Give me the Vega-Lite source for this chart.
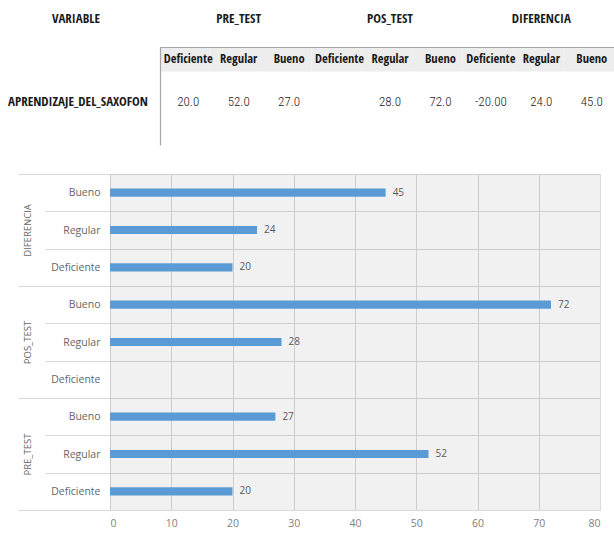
{
  "$schema": "https://vega.github.io/schema/vega-lite/v6.json",
  "padding": 0,
  "background": "white",
  "config": {"view": {"stroke": null}},
  "datasets": {
    "tbl": [
      {"row": "h1", "col": "c2", "text": "PRE_TEST"},
      {"row": "h1", "col": "c5", "text": "POS_TEST"},
      {"row": "h1", "col": "c8", "text": "DIFERENCIA"}
    ],
    "sub": [
      {"row": "h", "col": "c1", "text": "Deficiente"},
      {"row": "h", "col": "c2", "text": "Regular"},
      {"row": "h", "col": "c3", "text": "Bueno"},
      {"row": "h", "col": "c4", "text": "Deficiente"},
      {"row": "h", "col": "c5", "text": "Regular"},
      {"row": "h", "col": "c6", "text": "Bueno"},
      {"row": "h", "col": "c7", "text": "Deficiente"},
      {"row": "h", "col": "c8", "text": "Regular"},
      {"row": "h", "col": "c9", "text": "Bueno"}
    ],
    "vals": [
      {"row": "d", "col": "c1", "text": "20.0"},
      {"row": "d", "col": "c2", "text": "52.0"},
      {"row": "d", "col": "c3", "text": "27.0"},
      {"row": "d", "col": "c4", "text": ""},
      {"row": "d", "col": "c5", "text": "28.0"},
      {"row": "d", "col": "c6", "text": "72.0"},
      {"row": "d", "col": "c7", "text": "-20.00"},
      {"row": "d", "col": "c8", "text": "24.0"},
      {"row": "d", "col": "c9", "text": "45.0"}
    ],
    "chart": [
      {"group": "DIFERENCIA", "cat": "Bueno", "key": "DIFERENCIA|Bueno", "value": 45},
      {"group": "DIFERENCIA", "cat": "Regular", "key": "DIFERENCIA|Regular", "value": 24},
      {"group": "DIFERENCIA", "cat": "Deficiente", "key": "DIFERENCIA|Deficiente", "value": 20},
      {"group": "POS_TEST", "cat": "Bueno", "key": "POS_TEST|Bueno", "value": 72},
      {"group": "POS_TEST", "cat": "Regular", "key": "POS_TEST|Regular", "value": 28},
      {"group": "POS_TEST", "cat": "Deficiente", "key": "POS_TEST|Deficiente", "value": null},
      {"group": "PRE_TEST", "cat": "Bueno", "key": "PRE_TEST|Bueno", "value": 27},
      {"group": "PRE_TEST", "cat": "Regular", "key": "PRE_TEST|Regular", "value": 52},
      {"group": "PRE_TEST", "cat": "Deficiente", "key": "PRE_TEST|Deficiente", "value": 20}
    ]
  },
  "spacing": 24,
  "vconcat": [
    {
      "spacing": 0,
      "vconcat": [
        {
          "spacing": 0,
          "hconcat": [
            {
              "width": 160, "height": 47,
              "data": {"values": [{"row": "h1", "col": "v", "text": "VARIABLE"}]},
              "mark": {"type": "text", "font": "Open Sans Condensed", "fontWeight": "bold", "fontSize": 13, "color": "#1a1a1a", "dy": -5, "dx": -4},
              "encoding": {
                "x": {"field": "col", "type": "nominal", "axis": null},
                "y": {"field": "row", "type": "nominal", "axis": null},
                "text": {"field": "text"}
              }
            },
            {
              "width": 454, "height": 47,
              "data": {"name": "tbl"},
              "mark": {"type": "text", "font": "Open Sans Condensed", "fontWeight": "bold", "fontSize": 13, "color": "#1a1a1a", "dy": -5, "dx": 3},
              "encoding": {
                "x": {"field": "col", "type": "nominal", "axis": null, "scale": {"domain": ["c1","c2","c3","c4","c5","c6","c7","c8","c9"], "paddingInner": 0, "paddingOuter": 0}},
                "y": {"field": "row", "type": "nominal", "axis": null},
                "text": {"field": "text"}
              }
            }
          ]
        },
        {
          "spacing": 0,
          "hconcat": [
            {
              "width": 160, "height": 98,
              "data": {"values": [{"row": "d", "col": "v", "text": "APRENDIZAJE_DEL_SAXOFON"}]},
              "mark": {"type": "text", "font": "Open Sans Condensed", "fontWeight": "bold", "fontSize": 13, "color": "#1a1a1a", "dy": 18, "dx": -2},
              "encoding": {
                "x": {"field": "col", "type": "nominal", "axis": null},
                "y": {"field": "row", "type": "nominal", "axis": null, "scale": {"domain": ["h","d","x","z"], "paddingInner": 0, "paddingOuter": 0}},
                "text": {"field": "text"}
              }
            },
            {
              "width": 454, "height": 98,
              "layer": [
                {
                  "data": {"name": "sub"},
                  "mark": {"type": "rect", "color": "#ededed"},
                  "encoding": {
                    "x": {"field": "col", "type": "nominal", "scale": {"domain": ["c1","c2","c3","c4","c5","c6","c7","c8","c9"], "paddingInner": 0, "paddingOuter": 0},
                          "axis": {"orient": "top", "labels": false, "ticks": false, "title": null, "domain": true, "domainColor": "#a6a6a6", "domainWidth": 1.2, "minExtent": 0, "maxExtent": 0}},
                    "y": {"field": "row", "type": "nominal", "scale": {"domain": ["h","d","x","z"], "paddingInner": 0, "paddingOuter": 0},
                          "axis": {"orient": "left", "labels": false, "ticks": false, "title": null, "domain": true, "domainColor": "#a6a6a6", "domainWidth": 1.2, "minExtent": 0, "maxExtent": 0}}
                  }
                },
                {
                  "data": {"name": "sub"},
                  "mark": {"type": "text", "font": "Open Sans Condensed", "fontWeight": "bold", "fontSize": 12.5, "color": "#1a1a1a", "dx": 3},
                  "encoding": {
                    "x": {"field": "col", "type": "nominal"},
                    "y": {"field": "row", "type": "nominal"},
                    "text": {"field": "text"}
                  }
                },
                {
                  "data": {"name": "vals"},
                  "mark": {"type": "text", "font": "Roboto Condensed", "fontWeight": 300, "fontSize": 13, "color": "#1a1a1a", "dx": 3, "dy": 18},
                  "encoding": {
                    "x": {"field": "col", "type": "nominal"},
                    "y": {"field": "row", "type": "nominal"},
                    "text": {"field": "text"}
                  }
                }
              ]
            }
          ]
        }
      ]
    },
    {
      "width": 600, "height": 336,
      "data": {"name": "chart"},
      "layer": [
        {
          "data": {"values": [{"bg": 1}]},
          "mark": {"type": "rect", "color": "#000000", "opacity": 0.055},
          "encoding": {
            "x": {"datum": 0, "type": "quantitative", "scale": {"domain": [0, 80], "range": [110, 600], "nice": false, "zero": false},
                  "axis": {"title": null, "values": [0,10,20,30,40,50,60,70,80], "grid": true, "gridColor": "#d9d9d9", "ticks": false, "domain": false, "labelPadding": 8, "labelFont": "Open Sans", "labelFontSize": 10.5, "labelColor": "#7f7f7f"}},
            "x2": {"datum": 80}
          }
        },
        {
          "layer": [
            {
              "mark": {"type": "bar", "color": "#5b9bd5", "height": {"band": 0.22}},
              "encoding": {
                "y": {"field": "key", "type": "nominal",
                      "scale": {"domain": ["DIFERENCIA|Bueno","DIFERENCIA|Regular","DIFERENCIA|Deficiente","POS_TEST|Bueno","POS_TEST|Regular","POS_TEST|Deficiente","PRE_TEST|Bueno","PRE_TEST|Regular","PRE_TEST|Deficiente"], "paddingInner": 0, "paddingOuter": 0},
                      "axis": {"orient": "left", "offset": -600, "title": null, "labelExpr": "split(datum.label, '|')[1]", "tickBand": "extent", "grid": false, "tickSize": 555, "tickColor": "#d9d9d9", "labelPadding": -55, "domain": false, "labelFont": "Open Sans", "labelFontSize": 10.5, "labelColor": "#666666", "minExtent": 0}},
                "x": {"field": "value", "type": "quantitative"}
              }
            },
            {
              "mark": {"type": "text", "align": "left", "dx": 7, "font": "Open Sans", "fontSize": 10, "color": "#595959"},
              "encoding": {
                "y": {"field": "key", "type": "nominal"},
                "x": {"field": "value", "type": "quantitative"},
                "text": {"field": "value", "type": "quantitative"}
              }
            }
          ]
        },
        {
          "mark": {"type": "point", "opacity": 0},
          "encoding": {
            "y": {"field": "group", "type": "nominal",
                  "scale": {"domain": ["DIFERENCIA","POS_TEST","PRE_TEST"], "paddingInner": 0, "paddingOuter": 0},
                  "axis": {"orient": "left", "offset": -600, "title": null, "tickBand": "extent", "grid": false, "tickSize": 582, "tickColor": "#d9d9d9", "labelPadding": -9, "labelAngle": -90, "labelAlign": "center", "labelBaseline": "middle", "domain": false, "labelFont": "Open Sans", "labelFontSize": 9.5, "labelColor": "#666666", "minExtent": 0}},
            "x": {"field": "value", "type": "quantitative"}
          }
        }
      ],
      "resolve": {"scale": {"y": "independent"}, "axis": {"y": "independent"}}
    }
  ]
}
